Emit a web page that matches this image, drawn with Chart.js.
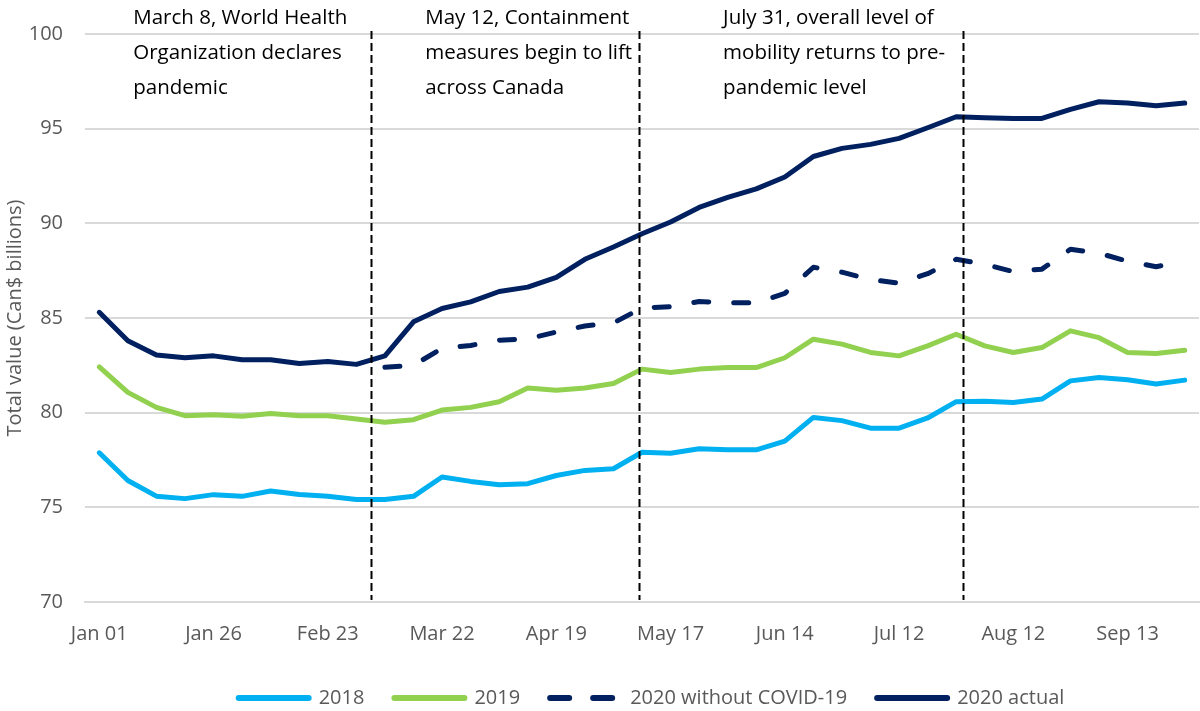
<!DOCTYPE html>
<html>
<head>
<meta charset="utf-8">
<script src="https://cdn.jsdelivr.net/npm/chart.js@4.4.1/dist/chart.umd.min.js"></script>
<style>
  html, body { margin: 0; padding: 0; background: #fff; }
  #wrap { width: 1200px; height: 711px; }
</style>
</head>
<body>
<div id="wrap"><canvas id="chart" width="1200" height="711"></canvas></div>
<script>
// tick labels shown every 4th week
const tickLabels = ['Jan 01', 'Jan 26', 'Feb 23', 'Mar 22', 'Apr 19', 'May 17', 'Jun 14', 'Jul 12', 'Aug 12', 'Sep 13'];

// weekly values, Can$ billions
const values2018 = [77.88, 76.42, 75.59, 75.46, 75.67, 75.58, 75.86, 75.68, 75.59, 75.41,
  75.41, 75.58, 76.6, 76.37, 76.19, 76.25, 76.68, 76.95, 77.04, 77.91,
  77.86, 78.09, 78.04, 78.04, 78.5, 79.75, 79.58, 79.18, 79.18, 79.72,
  80.58, 80.6, 80.54, 80.72, 81.68, 81.86, 81.74, 81.51, 81.72];

const values2019 = [82.42, 81.07, 80.28, 79.84, 79.89, 79.81, 79.96, 79.84, 79.84, 79.67,
  79.49, 79.63, 80.14, 80.28, 80.58, 81.3, 81.19, 81.3, 81.54, 82.3,
  82.12, 82.3, 82.38, 82.38, 82.9, 83.88, 83.62, 83.18, 83.0, 83.53,
  84.14, 83.53, 83.18, 83.44, 84.32, 83.96, 83.18, 83.12, 83.3];

const valuesNoCovid = [null, null, null, null, null, null, null, null, null, null,
  82.4, 82.5, 83.4, 83.55, 83.83, 83.9, 84.26, 84.58, 84.74, 85.53,
  85.6, 85.87, 85.8, 85.8, 86.3, 87.68, 87.42, 87.03, 86.84, 87.34,
  88.1, 87.84, 87.45, 87.58, 88.63, 88.42, 88.0, 87.71, 88.0];

const values2020 = [85.3, 83.8, 83.05, 82.9, 83.0, 82.8, 82.8, 82.6, 82.7, 82.55,
  83.0, 84.8, 85.5, 85.85, 86.4, 86.63, 87.15, 88.1, 88.75, 89.45,
  90.07, 90.84, 91.37, 91.82, 92.45, 93.53, 93.96, 94.17, 94.49, 95.05,
  95.63, 95.58, 95.54, 95.54, 96.02, 96.42, 96.35, 96.21, 96.35];

// one category per week, only every 4th one gets a label
const categories = values2020.map((v, i) => (i % 4 === 0 ? tickLabels[i / 4] : ''));

// event markers, in week units
const eventPositions = [9.51, 18.89, 30.24];
const notePositions = [1.19, 11.41, 21.84];
const noteTexts = [
  ['March 8, World Health', 'Organization declares', 'pandemic'],
  ['May 12, Containment', 'measures begin to lift', 'across Canada'],
  ['July 31, overall level of', 'mobility returns to pre-', 'pandemic level']
];

const FONT = "'Open Sans', sans-serif";
const GREY_TEXT = '#595959';

const eventPlugin = {
  id: 'events',
  afterLayout(chart) {
    // legend sits a bit right of centre in the original
    const lg = chart.legend;
    if (lg) {
      lg.left += 52; lg.right += 52;
      lg.top += 7; lg.bottom += 7;
    }
  },
  afterDatasetsDraw(chart) {
    const { ctx, chartArea } = chart;
    const x = chart.scales.x;
    ctx.save();
    ctx.strokeStyle = '#000';
    ctx.lineWidth = 2;
    ctx.setLineDash([8, 4]);
    eventPositions.forEach(p => {
      const px = Math.round(x.getPixelForValue(p)) + 0.5;
      ctx.beginPath();
      ctx.moveTo(px, chartArea.top - 3);
      ctx.lineTo(px, chartArea.bottom - 2);
      ctx.stroke();
    });
    ctx.setLineDash([]);
    ctx.fillStyle = '#000';
    ctx.font = '20.5px ' + FONT;
    ctx.textAlign = 'left';
    ctx.textBaseline = 'alphabetic';
    noteTexts.forEach((lines, n) => {
      const px = x.getPixelForValue(notePositions[n]);
      lines.forEach((t, k) => {
        ctx.fillText(t, px, chartArea.top - 10 + k * 35);
      });
    });
    ctx.restore();
  }
};

const ctx = document.getElementById('chart').getContext('2d');
new Chart(ctx, {
  type: 'line',
  data: {
    labels: categories,
    datasets: [
      { label: '2018', data: values2018, borderColor: '#00B0F0', backgroundColor: '#00B0F0' },
      { label: '2019', data: values2019, borderColor: '#92D050', backgroundColor: '#92D050' },
      { label: '2020 without COVID-19', data: valuesNoCovid, borderColor: '#002060', backgroundColor: '#002060',
        borderDash: [15, 25] },
      { label: '2020 actual', data: values2020, borderColor: '#002060', backgroundColor: '#002060' }
    ]
  },
  options: {
    responsive: false,
    animation: false,
    devicePixelRatio: 1,
    layout: { padding: { top: 32, right: 1, left: 0, bottom: 0 } },
    elements: {
      line: { borderWidth: 5, tension: 0, borderCapStyle: 'round', borderJoinStyle: 'round', fill: false },
      point: { radius: 0, hoverRadius: 0 }
    },
    plugins: {
      tooltip: { enabled: false },
      legend: {
        position: 'bottom',
        labels: {
          usePointStyle: true,
          pointStyle: 'line',
          pointStyleWidth: 70,
          boxHeight: 20,
          padding: 30,
          color: GREY_TEXT,
          font: { family: FONT, size: 20 },
          generateLabels(chart) {
            const items = Chart.defaults.plugins.legend.labels.generateLabels(chart);
            items.forEach((it, i) => {
              const ds = chart.data.datasets[i];
              it.pointStyle = 'line';
              it.strokeStyle = ds.borderColor;
              it.lineWidth = 6;
              it.lineCap = 'round';
              it.lineDash = ds.borderDash ? [19, 24] : [];
            });
            return items;
          }
        }
      }
    },
    scales: {
      x: {
        offset: true,
        grid: { display: false },
        border: { color: '#d9d9d9', width: 2 },
        ticks: {
          autoSkip: false,
          maxRotation: 0,
          padding: 12,
          color: GREY_TEXT,
          font: { family: FONT, size: 20 }
        },
        afterFit(scale) {
          const lg = scale.chart.legend;
          scale.height = 109 - (lg ? lg.height : 40);
        }
      },
      y: {
        min: 70,
        max: 100,
        border: { display: false },
        grid: { color: '#d9d9d9', lineWidth: 2, drawTicks: false },
        ticks: {
          stepSize: 5,
          padding: 22,
          color: GREY_TEXT,
          font: { family: FONT, size: 20 }
        },
        title: {
          display: true,
          text: 'Total value (Can$ billions)',
          color: GREY_TEXT,
          font: { family: FONT, size: 20 },
          padding: { top: 3, bottom: 0 }
        },
        afterFit(scale) {
          scale.width = 85;
        }
      }
    }
  },
  plugins: [eventPlugin]
});
</script>
</body>
</html>
